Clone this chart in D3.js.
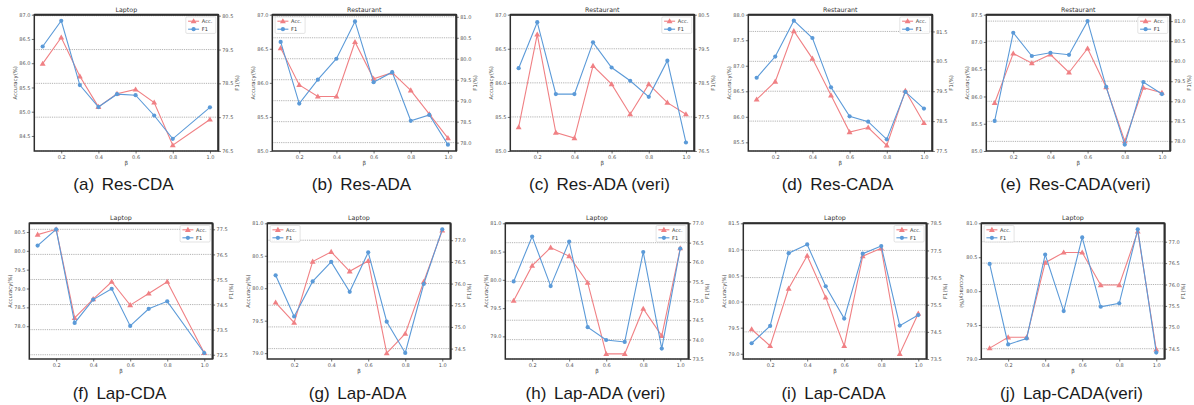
<!DOCTYPE html>
<meta charset="utf-8">
<script src="https://d3js.org/d3.v7.min.js"></script>
<style>
  body { margin: 0; background: #fff; }
  svg text { font-family: "DejaVu Sans", sans-serif; }
  .caption { font-family: "Liberation Sans", Arial, sans-serif !important; }
</style>
<div id="chart"></div>
<script>
// beta values on the x axis
var betas = [0.1, 0.2, 0.3, 0.4, 0.5, 0.6, 0.7, 0.8, 0.9, 1.0];
var betasNo09 = [0.1, 0.2, 0.3, 0.4, 0.5, 0.6, 0.7, 0.8, 1.0];

var titles = ["Laptop", "Restaurant", "Restaurant", "Restaurant", "Restaurant",
              "Laptop", "Laptop", "Laptop", "Laptop", "Laptop"];
var tags = ["(a)", "(b)", "(c)", "(d)", "(e)", "(f)", "(g)", "(h)", "(i)", "(j)"];
var names = ["Res-CDA", "Res-ADA", "Res-ADA (veri)", "Res-CADA", "Res-CADA(veri)",
             "Lap-CDA", "Lap-ADA", "Lap-ADA (veri)", "Lap-CADA", "Lap-CADA(veri)"];

// accuracy / F1 series
var accResCDA = [85.99, 86.53, 85.73, 85.10, 85.37, 85.46, 85.19, 84.31, 84.84];
var f1ResCDA  = [79.59, 80.35, 78.45, 77.80, 78.18, 78.15, 77.55, 76.86, 77.79];
var accResADA = [86.51, 85.97, 85.80, 85.80, 86.60, 86.06, 86.15, 85.89, 85.54, 85.19];
var f1ResADA  = [80.40, 78.93, 79.50, 80.00, 80.89, 79.44, 79.68, 78.52, 78.66, 77.95];
var accResADAv = [85.35, 86.71, 85.27, 85.19, 86.25, 85.98, 85.54, 85.98, 85.71, 85.54];
var f1ResADAv  = [78.93, 80.28, 78.17, 78.17, 79.69, 78.95, 78.56, 78.09, 79.15, 76.75];
var accResCADA = [86.34, 86.69, 87.68, 87.14, 86.42, 85.70, 85.79, 85.44, 86.51, 85.88];
var f1ResCADA  = [79.95, 80.66, 81.86, 81.28, 79.63, 78.66, 78.48, 77.89, 79.48, 78.92];
var accResCADAv = [85.88, 86.79, 86.61, 86.77, 86.44, 86.88, 86.17, 85.18, 86.16, 86.07];
var f1ResCADAv  = [78.51, 80.71, 80.13, 80.21, 80.16, 81.00, 79.36, 77.92, 79.48, 79.18];
var accLapCDA = [80.43, 80.57, 78.22, 78.72, 79.18, 78.56, 78.87, 79.18, 77.29];
var f1LapCDA  = [76.85, 77.50, 73.77, 74.70, 75.13, 73.65, 74.33, 74.63, 72.57];
var accLapADA = [79.78, 79.47, 80.41, 80.56, 80.26, 80.42, 79.00, 79.30, 80.10, 80.89];
var f1LapADA  = [76.19, 75.24, 76.05, 76.50, 75.81, 76.72, 75.12, 74.40, 75.99, 77.25];
var accLapADAv = [79.63, 80.25, 80.57, 80.42, 79.95, 78.69, 78.69, 79.49, 79.01, 80.56];
var f1LapADAv  = [75.50, 76.66, 75.38, 76.53, 74.32, 73.99, 73.94, 76.26, 73.77, 76.35];
var accLapCADA = [79.47, 79.15, 80.25, 80.88, 80.08, 79.15, 80.87, 81.02, 79.00, 79.77];
var f1LapCADA  = [74.08, 74.72, 77.40, 77.72, 76.18, 74.99, 77.38, 77.66, 74.73, 75.12];
var accLapCADAv = [79.16, 79.32, 79.32, 80.42, 80.57, 80.57, 80.09, 80.09, 80.88, 79.14];
var f1LapCADAv  = [76.48, 74.60, 74.74, 76.70, 75.38, 77.10, 75.48, 75.56, 77.29, 74.41];

// tick labels of each panel
var xTicks = [0.2, 0.4, 0.6, 0.8, 1.0];
var accTicks = [
  [84.5, 85.0, 85.5, 86.0, 86.5, 87.0],
  [85.0, 85.5, 86.0, 86.5, 87.0],
  [85.0, 85.5, 86.0, 86.5, 87.0],
  [85.5, 86.0, 86.5, 87.0, 87.5, 88.0],
  [85.0, 85.5, 86.0, 86.5, 87.0, 87.5],
  [78.0, 78.5, 79.0, 79.5, 80.0, 80.5],
  [79.0, 79.5, 80.0, 80.5, 81.0],
  [79.0, 79.5, 80.0, 80.5, 81.0],
  [79.0, 79.5, 80.0, 80.5, 81.0, 81.5],
  [79.0, 79.5, 80.0, 80.5, 81.0]
];
var f1Ticks = [
  [76.5, 77.5, 78.5, 79.5, 80.5],
  [78.0, 78.5, 79.0, 79.5, 80.0, 80.5, 81.0],
  [76.5, 77.5, 78.5, 79.5, 80.5],
  [77.5, 78.5, 79.5, 80.5, 81.5],
  [78.0, 78.5, 79.0, 79.5, 80.0, 80.5, 81.0],
  [72.5, 73.5, 74.5, 75.5, 76.5, 77.5],
  [74.5, 75.0, 75.5, 76.0, 76.5, 77.0],
  [73.5, 74.0, 74.5, 75.0, 75.5, 76.0, 76.5, 77.0],
  [73.5, 74.5, 75.5, 76.5, 77.5, 78.5],
  [74.5, 75.0, 75.5, 76.0, 76.5, 77.0]
];

// axis limits of each panel
var accLims = [[84.19, 87.0], [85.0, 87.0], [85.0, 87.0], [85.33, 88.0], [85.0, 87.5],
               [77.13, 80.73], [78.91, 81.0], [78.6, 81.0], [78.9, 81.5], [79.0, 81.0]];
var f1Lims = [[76.5, 80.53], [77.8, 81.05], [76.5, 80.5], [77.5, 82.06], [77.76, 81.16],
              [72.33, 77.74], [74.26, 77.39], [73.5, 77.0], [73.5, 78.5], [74.26, 77.43]];

var panels = [
  {xs: betasNo09, acc: accResCDA, f1: f1ResCDA, legend: "right"},
  {xs: betas, acc: accResADA, f1: f1ResADA, legend: "left"},
  {xs: betas, acc: accResADAv, f1: f1ResADAv, legend: "right"},
  {xs: betas, acc: accResCADA, f1: f1ResCADA, legend: "right"},
  {xs: betas, acc: accResCADAv, f1: f1ResCADAv, legend: "right"},
  {xs: betasNo09, acc: accLapCDA, f1: f1LapCDA, legend: "right"},
  {xs: betas, acc: accLapADA, f1: f1LapADA, legend: "left"},
  {xs: betas, acc: accLapADAv, f1: f1LapADAv, legend: "right"},
  {xs: betas, acc: accLapCADA, f1: f1LapCADA, legend: "right"},
  {xs: betas, acc: accLapCADAv, f1: f1LapCADAv, legend: "left"}
];

var red = "#f08084", blue = "#5b9ad8";
var colStep = 238;
var rows = [
  {left: 34.3, top: 14.7, w: 184, h: 136.3, capX: 123.5, capY: 189.7},
  {left: 29.3, top: 223.3, w: 183.3, h: 135.7, capX: 119.5, capY: 398.5}
];

var svg = d3.select("#chart").append("svg")
  .attr("width", 1194)
  .attr("height", 405);

var tri = d3.symbol().type(d3.symbolTriangle).size(15);

panels.forEach(function(p, i) {
  var row = rows[Math.floor(i / 5)];
  var col = i % 5;
  var x0 = row.left + col * colStep, y0 = row.top;
  var w = row.w, h = row.h;

  var g = svg.append("g").attr("transform", "translate(" + x0 + "," + y0 + ")");

  var x = d3.scaleLinear().domain([0.055, 1.045]).range([0, w]);
  var yL = d3.scaleLinear().domain(accLims[i]).range([h, 0]);
  var yR = d3.scaleLinear().domain(f1Lims[i]).range([h, 0]);

  // dotted grid from the F1 axis
  g.append("g").selectAll("line")
    .data(f1Ticks[i])
    .enter().append("line")
    .attr("x1", 0).attr("x2", w)
    .attr("y1", function(d) { return yR(d); })
    .attr("y2", function(d) { return yR(d); })
    .attr("stroke", "#aaa")
    .attr("stroke-width", 0.9)
    .attr("stroke-dasharray", "1.2,1");

  // axes
  var ax = g.append("g").attr("transform", "translate(0," + h + ")")
    .call(d3.axisBottom(x).tickValues(xTicks).tickFormat(d3.format(".1f")).tickSize(2.5).tickPadding(1.6));
  var al = g.append("g")
    .call(d3.axisLeft(yL).tickValues(accTicks[i]).tickFormat(d3.format(".1f")).tickSize(2.5).tickPadding(1.4));
  var ar = g.append("g").attr("transform", "translate(" + w + ",0)")
    .call(d3.axisRight(yR).tickValues(f1Ticks[i]).tickFormat(d3.format(".1f")).tickSize(2.5).tickPadding(1.4));
  [ax, al, ar].forEach(function(a) {
    a.select(".domain").remove();
    a.selectAll("line").attr("stroke", "#333").attr("stroke-width", 0.7);
    a.selectAll("text").attr("font-size", 5).attr("fill", "#555")
      .style("font-family", "DejaVu Sans");
  });

  // series
  var line = function(ys, yScale) {
    return d3.line()
      .x(function(d, k) { return x(p.xs[k]); })
      .y(function(d) { return yScale(d); })(ys);
  };
  g.append("path").attr("d", line(p.acc, yL))
    .attr("fill", "none").attr("stroke", red).attr("stroke-width", 1.1);
  g.append("g").selectAll("path")
    .data(p.acc)
    .enter().append("path")
    .attr("d", tri)
    .attr("transform", function(d, k) { return "translate(" + x(p.xs[k]) + "," + (yL(d) + 0.4) + ")"; })
    .attr("fill", red);

  g.append("path").attr("d", line(p.f1, yR))
    .attr("fill", "none").attr("stroke", blue).attr("stroke-width", 1.1);
  g.append("g").selectAll("circle")
    .data(p.f1)
    .enter().append("circle")
    .attr("cx", function(d, k) { return x(p.xs[k]); })
    .attr("cy", function(d) { return yR(d); })
    .attr("r", 2.1)
    .attr("fill", blue);

  // frame
  g.append("rect").attr("width", w).attr("height", h)
    .attr("fill", "none").attr("stroke", "#2e2e2e").attr("stroke-width", 1.5);
  g.append("line").attr("x1", 0).attr("x2", w).attr("y1", 0).attr("y2", 0)
    .attr("stroke", "#2e2e2e").attr("stroke-width", 2);
  g.append("line").attr("x1", w).attr("x2", w).attr("y1", 0).attr("y2", h)
    .attr("stroke", "#2e2e2e").attr("stroke-width", 2);

  // title and axis labels
  g.append("text").attr("x", w / 2).attr("y", -3.2)
    .attr("text-anchor", "middle").attr("font-size", 6.3).attr("fill", "#333")
    .text(titles[i]);
  g.append("text").attr("x", w / 2).attr("y", h + 14)
    .attr("text-anchor", "middle").attr("font-size", 5.5).attr("fill", "#444")
    .text("β");
  var rot = i === 9 ? 90 : -90;
  g.append("text")
    .attr("transform", "translate(" + (-19.5) + "," + (h / 2) + ") rotate(" + rot + ")")
    .attr("text-anchor", "middle").attr("dy", "0.35em").attr("font-size", 5.3).attr("fill", "#444")
    .text("Accuracy(%)");
  g.append("text")
    .attr("transform", "translate(" + (w + 19) + "," + (h / 2) + ") rotate(-90)")
    .attr("text-anchor", "middle").attr("dy", "0.35em").attr("font-size", 5.3).attr("fill", "#444")
    .text("F1(%)");

  // legend
  var lx = p.legend === "right" ? w - 32.5 : 2.8;
  var lg = g.append("g").attr("transform", "translate(" + lx + ",2.2)");
  lg.append("rect").attr("width", 30).attr("height", 16.5).attr("rx", 1.2)
    .attr("fill", "#fff").attr("fill-opacity", 0.85)
    .attr("stroke", "#d0d0d0").attr("stroke-width", 0.6);
  [["Acc.", red, 4.3], ["F1", blue, 12.3]].forEach(function(e, k) {
    lg.append("line").attr("x1", 2.3).attr("x2", 13.3).attr("y1", e[2]).attr("y2", e[2])
      .attr("stroke", e[1]).attr("stroke-width", 1.1);
    if (k === 0) {
      lg.append("path").attr("d", tri).attr("transform", "translate(7.8," + (e[2] + 0.4) + ")").attr("fill", e[1]);
    } else {
      lg.append("circle").attr("cx", 7.8).attr("cy", e[2]).attr("r", 2.1).attr("fill", e[1]);
    }
    lg.append("text").attr("x", 16).attr("y", e[2]).attr("dy", "0.35em")
      .attr("font-size", 5).attr("fill", "#333").text(e[0]);
  });

  // caption under the panel
  var cap = svg.append("text").attr("class", "caption")
    .attr("x", col * colStep + row.capX).attr("y", row.capY)
    .attr("text-anchor", "middle").attr("font-size", 17).attr("fill", "#1a1a1a")
    .style("font-family", "Liberation Sans, Arial, sans-serif");
  cap.append("tspan").text(tags[i]);
  cap.append("tspan").attr("dx", 7.7).text(names[i]);
});
</script>
